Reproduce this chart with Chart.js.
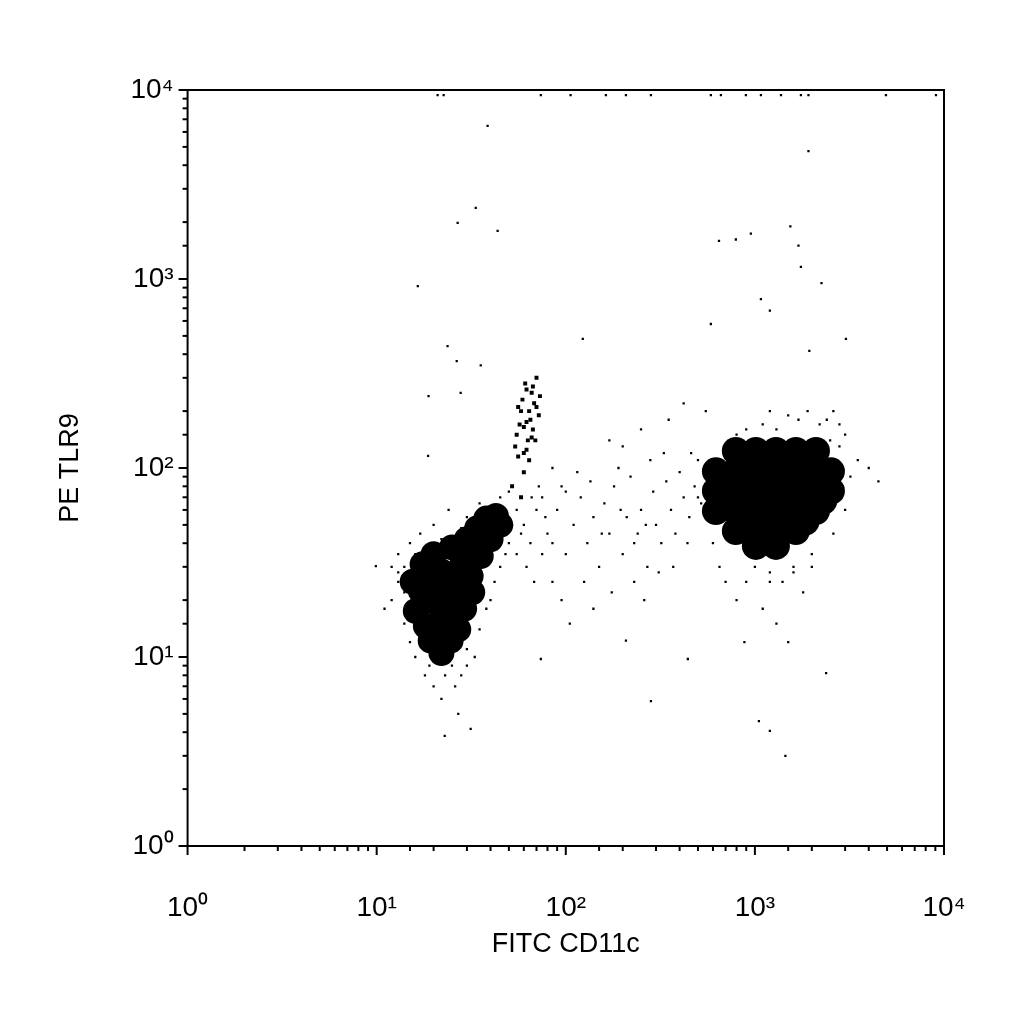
<!DOCTYPE html>
<html><head><meta charset="utf-8">
<script src="https://cdn.jsdelivr.net/npm/chart.js@4"></script>
<style>html,body{margin:0;background:#fff}#w{width:1024px;height:1024px}</style>
</head><body><div id="w"><canvas id="c"></canvas></div>
<script>
const tickLabels = {1:'10⁰',10:'10¹',100:'10²',1000:'10³',10000:'10⁴'};
// dense cores (drawn as large dots)
const leftCore = [[19.3,12.2],[21.8,15.5],[23.2,19.8],[20.5,23.8],[17.1,22.4],[16.1,17.5],[26.2,26.8],[29.6,32.2],[33.4,38.7],[37.8,46.4],[42.7,55.7],[18.2,14.6],[24.6,12.2],[27.8,22.4],[21.8,28.5],[31.4,26.8],[35.5,34.2],[19.3,19.8],[22,10.5],[40,42],[45,50],[25,16],[28,30],[18,28],[24,24],
[15.5,25],[17.5,31],[20,35],[25,38],[30,42],[34,48],[38,54],[29,18],[32,22],[27,14]];
const rightCore = [[793,123],[1012,123],[1292,123],[1648,123],[2103,123],[622,96],[793,96],[1012,96],[1292,96],[1648,96],[2103,96],[2524,96],[622,75.6],[793,75.6],[1012,75.6],[1292,75.6],[1648,75.6],[2103,75.6],[2524,75.6],[622,59.2],[793,59.2],[1012,59.2],[1292,59.2],[1648,59.2],[2103,59.2],[793,46.4],[1012,46.4],[1292,46.4],[1648,46.4],[1012,38.7],[1292,38.7],
[900,110],[1150,110],[1450,110],[1850,110],[700,85],[900,85],[1150,85],[1450,85],[1850,85],[2300,85],[700,67],[900,67],[1150,67],[1450,67],[1850,67],[2300,67],[900,52],[1150,52],[1450,52],[1850,52],[1150,42]];
const tower = [[55,150],[58,200],[62,260],[65,180],[68,220],[60,120],[70,300],[63,140],[57,170],[66,250],[72,190],[59,230],[64,110],[61,280],[67,160],[54,130],[69,140],[73,240],[56,210],[62,175],[60,95],[52,80],[58,70],[64,200],[60,165],[67,270],[70,210],[56,115],[62,125],[66,145]];
const sparse = [[21,9400],[22.6,9400],[73.8,9400],[106,9400],[163,9400],[208,9400],[282,9400],[585,9400],[661,9400],[896,9400],[1076,9400],[1374,9400],[1751,9400],[1920,9400],[4933,9400],[9070,9400],
[38.6,6450],[1920,4750],[33.4,2376],[26.8,1979],[43.6,1795],[16.5,918],[646,1589],[793,1618],[952,1740],[1540,1900],[1700,1500],[1751,1160],[2250,950],[1076,783],[1200,680],[585,578],[123,482],[3030,482],[1940,416],[23.7,442],[26.5,368],[27.8,250],[35.5,349],[282,5.85],[1050,4.58],[1200,4.06],[1450,3.0],[22.9,3.82],[31.4,4.16],[2380,8.22],[18.8,240],[18.7,116],[9.9,30.3],[442,9.76],[73.8,9.76],[208,12.2],
[80,45],[90,60],[100,35],[110,50],[120,70],[130,40],[140,55],[150,30],[160,65],[170,45],[180,80],[200,35],[210,55],[220,90],[240,45],[250,60],[270,30],[290,75],[300,50],[320,40],[340,85],[360,60],[380,45],[400,95],[420,70],[450,55],[480,80],[500,110],[520,65],[550,90],[85,25],[95,20],[105,15],[125,25],[140,18],[175,22],[230,25],[260,20],[310,28],[95,80],[115,95],[135,85],[190,100],[280,110],[330,120],[75,70],[85,100],[100,75],[155,45],[195,60],[230,40],[265,50],[370,30],[440,40],[460,120],[600,40],[650,30],[700,25],[800,20],[900,25],[1100,18],[1300,15],[1500,12],[1800,22],[1200,25],[1000,30],[2000,30],[1600,28],[880,12],[2500,140],[3000,150],[3500,110],[2800,170],[4000,100],[4500,85],[2600,200],[550,200],[420,220],[350,180],[250,160],[170,140],[200,130],
[12,20],[13,25],[14,15],[15,12],[16,10],[18,8],[20,7],[22,6],[25,9],[28,8],[30,11],[35,14],[40,20],[45,30],[50,40],[55,60],[13,35],[15,40],[17,45],[20,50],[24,60],[11,18],[12,30],[27,5],[33,10],[19,9],[14,30],[16,35],[40,50],[45,70],[50,75],[35,65],[30,55],
[500,70],[550,90],[600,60],[650,100],[700,130],[800,150],[900,160],[1100,170],[1300,160],[1700,180],[2200,170],[2800,130],[3200,90],[3000,60],[2600,45],[2000,35],[1600,30],[1400,25],[1200,28],[1000,35],[900,40],[700,45],[2400,180],[1900,200],[1500,190],[1200,200],[800,110],[650,80],
[60,50],[65,40],[70,60],[75,35],[62,30],[68,25],[58,45],[72,80],[78,55],[85,40],[66,70],[55,35],[13,28],[14,22],[15,18],[17,13],[19,11],[23,8],[26,7],[30,9],[38,18],[42,25],[48,35],[52,50],[16,30],[18,38],[22,42],[28,48],[32,45]];

const toPts = a => a.map(p => ({x:p[0], y:p[1]}));
const ds = (d, r) => ({data: toPts(d), pointRadius: r, pointHoverRadius: r, backgroundColor:'#000', borderWidth:0, pointStyle: r<3 ? 'rect':'circle'});

const frame = {id:'frame', afterDraw(ch){
  const c = ch.ctx, a = ch.chartArea;
  c.save(); c.strokeStyle='#000'; c.lineWidth=2;
  c.strokeRect(a.left, a.top, a.right-a.left, a.bottom-a.top);
  ['x','y'].forEach(k => {
    const s = ch.scales[k];
    s.ticks.forEach(t => {
      const v = t.value, major = tickLabels[v] !== undefined, L = major ? 9 : 5;
      const p = s.getPixelForValue(v);
      c.beginPath();
      if (k==='x'){ c.moveTo(p, a.bottom); c.lineTo(p, a.bottom+L); }
      else { c.moveTo(a.left, p); c.lineTo(a.left-L, p); }
      c.stroke();
    });
  });
  c.restore();
}};

const axis = (title, tp, pad) => ({type:'logarithmic', min:1, max:10000,
  grid:{display:false, drawTicks:false}, border:{display:false},
  ticks:{color:'#000', font:{family:'Liberation Sans', size:28}, padding:pad, autoSkip:false, maxRotation:0, minRotation:0,
    callback: v => tickLabels[v] || ''},
  title:{display:true, text:title, color:'#000', font:{family:'Liberation Sans', size:27}, padding:tp}});

new Chart(document.getElementById('c'), {
  type:'scatter',
  data:{datasets:[ds(sparse,1.6), ds(tower,2.8), ds(leftCore,13), ds(rightCore,14)]},
  options:{responsive:true, maintainAspectRatio:false, animation:false,
    layout:{padding:{left:50, top:90, right:80, bottom:59}},
    plugins:{legend:{display:false}, tooltip:{enabled:false}},
    scales:{x:axis('FITC CD11c',{top:-41,bottom:4},45), y:axis('PE TLR9',{top:4,bottom:30},14)}},
  plugins:[frame]
});
</script></body></html>
